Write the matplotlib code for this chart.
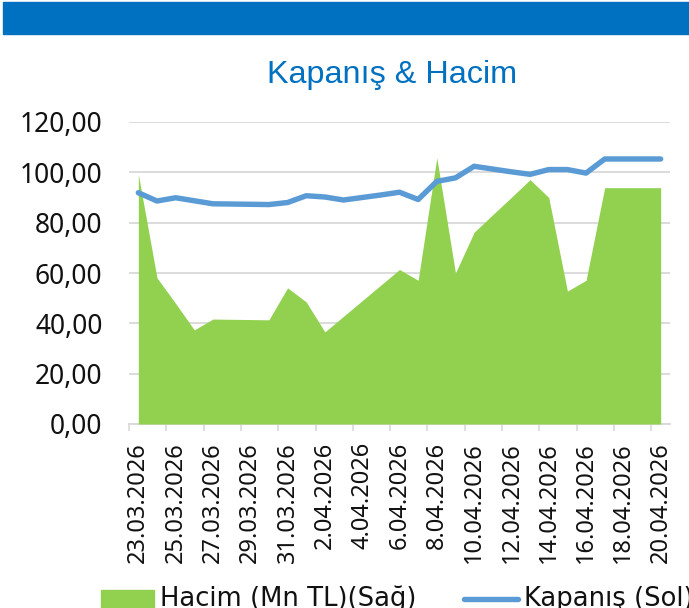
import matplotlib
matplotlib.use("Agg")
import matplotlib.pyplot as plt
from matplotlib.patches import Rectangle
from matplotlib.lines import Line2D

dates = ["23.03.2026", "24.03.2026", "25.03.2026", "26.03.2026", "27.03.2026",
         "28.03.2026", "29.03.2026", "30.03.2026", "31.03.2026", "1.04.2026",
         "2.04.2026", "3.04.2026", "4.04.2026", "5.04.2026", "6.04.2026",
         "7.04.2026", "8.04.2026", "9.04.2026", "10.04.2026", "11.04.2026",
         "12.04.2026", "13.04.2026", "14.04.2026", "15.04.2026", "16.04.2026",
         "17.04.2026", "18.04.2026", "19.04.2026", "20.04.2026"]
hacim = [99.2, 58.1, 47.9, 37.4, 41.7, 41.6, 41.5, 41.4, 54.1, 48.5,
         36.6, 42.8, 49.0, 55.2, 61.4, 57.1, 105.8, 60.0, 76.2, 83.2,
         90.1, 97.1, 90.0, 52.8, 57.1, 93.9, 93.9, 93.9, 93.9]
kapanis = [91.9, 88.6, 89.9, 88.7, 87.5, 87.4, 87.3, 87.2, 88.0, 90.7,
           90.2, 89.0, 90.0, 91.0, 92.1, 89.2, 96.4, 97.8, 102.4, 101.3,
           100.2, 99.2, 101.1, 101.1, 99.7, 105.3, 105.3, 105.3, 105.3]
yticks = [0, 20, 40, 60, 80, 100, 120]
title = "Kapanış & Hacim"
legend_labels = ["Hacim (Mn TL)(Sağ)", "Kapanış (Sol)"]

W, H = 689, 608
fig = plt.figure(figsize=(W / 100, H / 100), dpi=100)
fig.patch.set_facecolor("white")

def fx(px):
    return px / W

def fy(py):
    return 1 - py / H

# header bar
fig.patches.append(Rectangle((fx(3), fy(34)), fx(689) - fx(3), fy(2) - fy(34),
                             transform=fig.transFigure, color="#0070C0", zorder=0))

fig.text(fx(392.5), fy(83.5), title, ha="center", va="baseline",
         fontsize=23.3, color="#0070C0", family="Liberation Sans")

ax = fig.add_axes([fx(129), fy(424), fx(670) - fx(129), fy(122) - fy(424)])
x = list(range(len(dates)))
ax.fill_between(x, 0, hacim, color="#92D050", linewidth=0, zorder=2)
ax.plot(x, kapanis, color="#5B9BD5", linewidth=3.9, solid_capstyle="round",
        solid_joinstyle="round", zorder=3)

ax.set_xlim(-0.5, len(dates) - 0.5)
ax.set_ylim(0, 120)
ax.set_yticks(yticks)
ax.set_yticklabels([f"{v:.2f}".replace(".", ",") for v in yticks],
                   fontsize=19, family="Noto Sans", color="#111111")
ax.yaxis.grid(True, color="#D9D9D9", linewidth=1.3, zorder=0)
ax.set_axisbelow(True)
ax.tick_params(axis="y", length=0, pad=19)

major = x[::2]
ax.set_xticks(major)
ax.set_xticklabels([dates[i] for i in major], rotation=90, fontsize=17,
                   family="Noto Sans", color="#111111")
ax.set_xticks([i - 0.5 for i in x[::2]], minor=True)
ax.tick_params(axis="x", which="major", length=0, pad=13)
ax.tick_params(axis="x", which="minor", length=5, width=1.2, color="#D9D9D9")

for s in ["left", "right", "top"]:
    ax.spines[s].set_visible(False)
ax.spines["bottom"].set_color("#D9D9D9")
ax.spines["bottom"].set_linewidth(1.3)
ax.spines["bottom"].set_zorder(1)

# legend (bottom, partly cut off by the lower edge as in the reference)
fig.patches.append(Rectangle((fx(100.5), fy(620)), fx(154) - fx(100.5), fy(590) - fy(620),
                             transform=fig.transFigure, color="#92D050"))
fig.text(fx(160), fy(606.5), legend_labels[0], ha="left", va="baseline",
         fontsize=18.6, family="DejaVu Sans", color="#111111")
fig.lines.append(Line2D([fx(464), fx(518)], [fy(599), fy(599)], transform=fig.transFigure,
                        color="#5B9BD5", linewidth=3.9, solid_capstyle="round"))
fig.text(fx(523.5), fy(606.5), legend_labels[1], ha="left", va="baseline",
         fontsize=18.6, family="DejaVu Sans", color="#111111")

fig.savefig("out.png", dpi=100)
